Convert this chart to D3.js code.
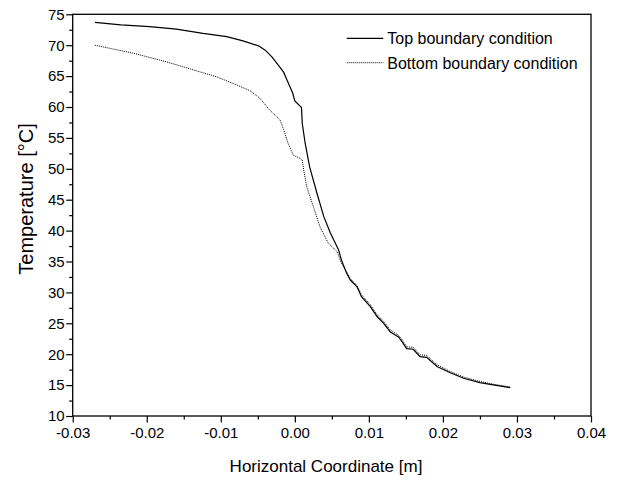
<!DOCTYPE html>
<html>
<head>
<meta charset="utf-8">
<script src="https://cdn.jsdelivr.net/npm/d3@7"></script>
<style>
    body { margin: 0; background: #fff; }
    text { font-family: "Liberation Sans", Arial, sans-serif; fill: #000; }
</style>
</head>
<body>
<svg id="drawing_region"></svg>
<script>
// top boundary condition (solid)
const xTop = [-0.0270, -0.0235, -0.0196, -0.0160, -0.0124, -0.0092, -0.0070, -0.0049, -0.0040, -0.0031,
    -0.0027, -0.0020, -0.0015, -0.0010, -0.0003, 0.0000, 0.0009, 0.0010, 0.0014, 0.0020,
    0.0030, 0.0039, 0.0048, 0.0059, 0.0063, 0.0070, 0.0075, 0.0084, 0.0090, 0.0102,
    0.0111, 0.0120, 0.0129, 0.0140, 0.0145, 0.0151, 0.0160, 0.0169, 0.0178, 0.0192,
    0.0210, 0.0228, 0.0250, 0.0270, 0.0291];
const tTop = [73.7, 73.3, 73.0, 72.6, 71.9, 71.4, 70.7, 69.9, 69.2, 68.1,
    67.5, 66.4, 65.6, 64.2, 62.3, 61.0, 59.9, 57.4, 54.1, 50.3,
    46.0, 42.3, 39.6, 36.9, 35.2, 33.1, 32.0, 30.9, 29.3, 27.7,
    26.1, 25.0, 23.6, 22.8, 22.0, 20.9, 20.8, 19.6, 19.5, 18.0,
    17.0, 16.1, 15.4, 15.0, 14.6];

// bottom boundary condition (dotted)
const xBot = [-0.0270, -0.0218, -0.0173, -0.0137, -0.0106, -0.0079, -0.0060, -0.0047, -0.0034, -0.0020,
    -0.0015, -0.0009, -0.0002, 0.0007, 0.0010, 0.0012, 0.0016, 0.0025, 0.0034, 0.0045,
    0.0057, 0.0063, 0.0070, 0.0075, 0.0084, 0.0090, 0.0102, 0.0111, 0.0120, 0.0129,
    0.0140, 0.0145, 0.0151, 0.0160, 0.0169, 0.0178, 0.0192, 0.0210, 0.0228, 0.0250,
    0.0270, 0.0291];
const tBot = [70.0, 68.7, 67.3, 66.0, 64.9, 63.6, 62.6, 61.4, 59.5, 57.9,
    56.3, 54.1, 52.2, 51.7, 51.4, 49.8, 47.1, 43.9, 40.6, 38.0,
    36.6, 34.7, 33.3, 32.2, 31.1, 29.6, 28.0, 26.4, 25.3, 23.9,
    23.1, 22.3, 21.2, 21.1, 19.9, 19.8, 18.3, 17.2, 16.3, 15.6,
    15.1, 14.7];

const xTicks = [-0.03, -0.02, -0.01, 0.00, 0.01, 0.02, 0.03, 0.04];
const xMinor = [-0.025, -0.015, -0.005, 0.005, 0.015, 0.025, 0.035];
const yTicks = [10, 15, 20, 25, 30, 35, 40, 45, 50, 55, 60, 65, 70, 75];
const yMinor = [12.5, 17.5, 22.5, 27.5, 32.5, 37.5, 42.5, 47.5, 52.5, 57.5, 62.5, 67.5, 72.5];

const seriesNames = ["Top boundary condition", "Bottom boundary condition"];

const config = {
    width: 619, height: 481,
    plot: { left: 72.7, right: 591, top: 14.3, bottom: 416 },
};
const P = config.plot;

const svg = d3.select('#drawing_region')
    .attr('width', config.width)
    .attr('height', config.height);

const xscale = d3.scaleLinear().domain([-0.03, 0.04]).range([P.left, P.right]);
const yscale = d3.scaleLinear().domain([10, 75]).range([P.bottom, P.top]);

// axes
const xaxis = d3.axisBottom(xscale).tickValues(xTicks).tickSize(6.5).tickPadding(5)
    .tickFormat(d => d.toFixed(2));
const xaxisMinor = d3.axisBottom(xscale).tickValues(xMinor).tickSize(3.5).tickFormat('');
const yaxis = d3.axisLeft(yscale).tickValues(yTicks).tickSize(6.5).tickPadding(1.5)
    .tickFormat(d => d);
const yaxisMinor = d3.axisLeft(yscale).tickValues(yMinor).tickSize(3.5).tickFormat('');

function styleAxis(g) {
    g.select('.domain').remove();
    g.selectAll('line').attr('stroke', '#000').attr('stroke-width', 1.2);
    g.selectAll('text').attr('font-size', '15px')
        .attr('font-family', '"Liberation Sans", Arial, sans-serif').attr('fill', '#000');
}

svg.append('g').attr('transform', `translate(0, ${P.bottom})`).call(xaxis).call(styleAxis);
svg.append('g').attr('transform', `translate(0, ${P.bottom})`).call(xaxisMinor).call(styleAxis);
svg.append('g').attr('transform', `translate(${P.left}, 0)`).call(yaxis).call(styleAxis);
svg.append('g').attr('transform', `translate(${P.left}, 0)`).call(yaxisMinor).call(styleAxis);

// frame
svg.append('rect')
    .attr('x', P.left).attr('y', P.top)
    .attr('width', P.right - P.left).attr('height', P.bottom - P.top)
    .attr('fill', 'none').attr('stroke', '#000').attr('stroke-width', 1.3);

// curves
const line = d3.line().x(d => xscale(d[0])).y(d => yscale(d[1]));
const topData = xTop.map((x, i) => [x, tTop[i]]);
const botData = xBot.map((x, i) => [x, tBot[i]]);

svg.append('path').datum(botData)
    .attr('d', line)
    .attr('fill', 'none').attr('stroke', '#000').attr('stroke-width', 1)
    .attr('stroke-dasharray', '1,1');

svg.append('path').datum(topData)
    .attr('d', line)
    .attr('fill', 'none').attr('stroke', '#000').attr('stroke-width', 1.2);

// legend
const legend = svg.append('g');
[0, 1].forEach(i => {
    const ly = 38.3 + i * 24.4;
    legend.append('line')
        .attr('x1', 346.7).attr('x2', 383.3).attr('y1', ly).attr('y2', ly)
        .attr('stroke', '#000').attr('stroke-width', i == 0 ? 1.2 : 1)
        .attr('stroke-dasharray', i == 0 ? null : '1,1');
    legend.append('text')
        .attr('x', 387.3).attr('y', ly + 5.8)
        .attr('font-size', '16px')
        .text(seriesNames[i]);
});

// axis labels
svg.append('text')
    .attr('x', 326).attr('y', 472)
    .attr('font-size', '17px')
    .attr('text-anchor', 'middle')
    .text('Horizontal Coordinate [m]');

svg.append('text')
    .attr('transform', `translate(33, 199) rotate(-90)`)
    .attr('font-size', '20px')
    .attr('text-anchor', 'middle')
    .text('Temperature [°C]');
</script>
</body>
</html>
